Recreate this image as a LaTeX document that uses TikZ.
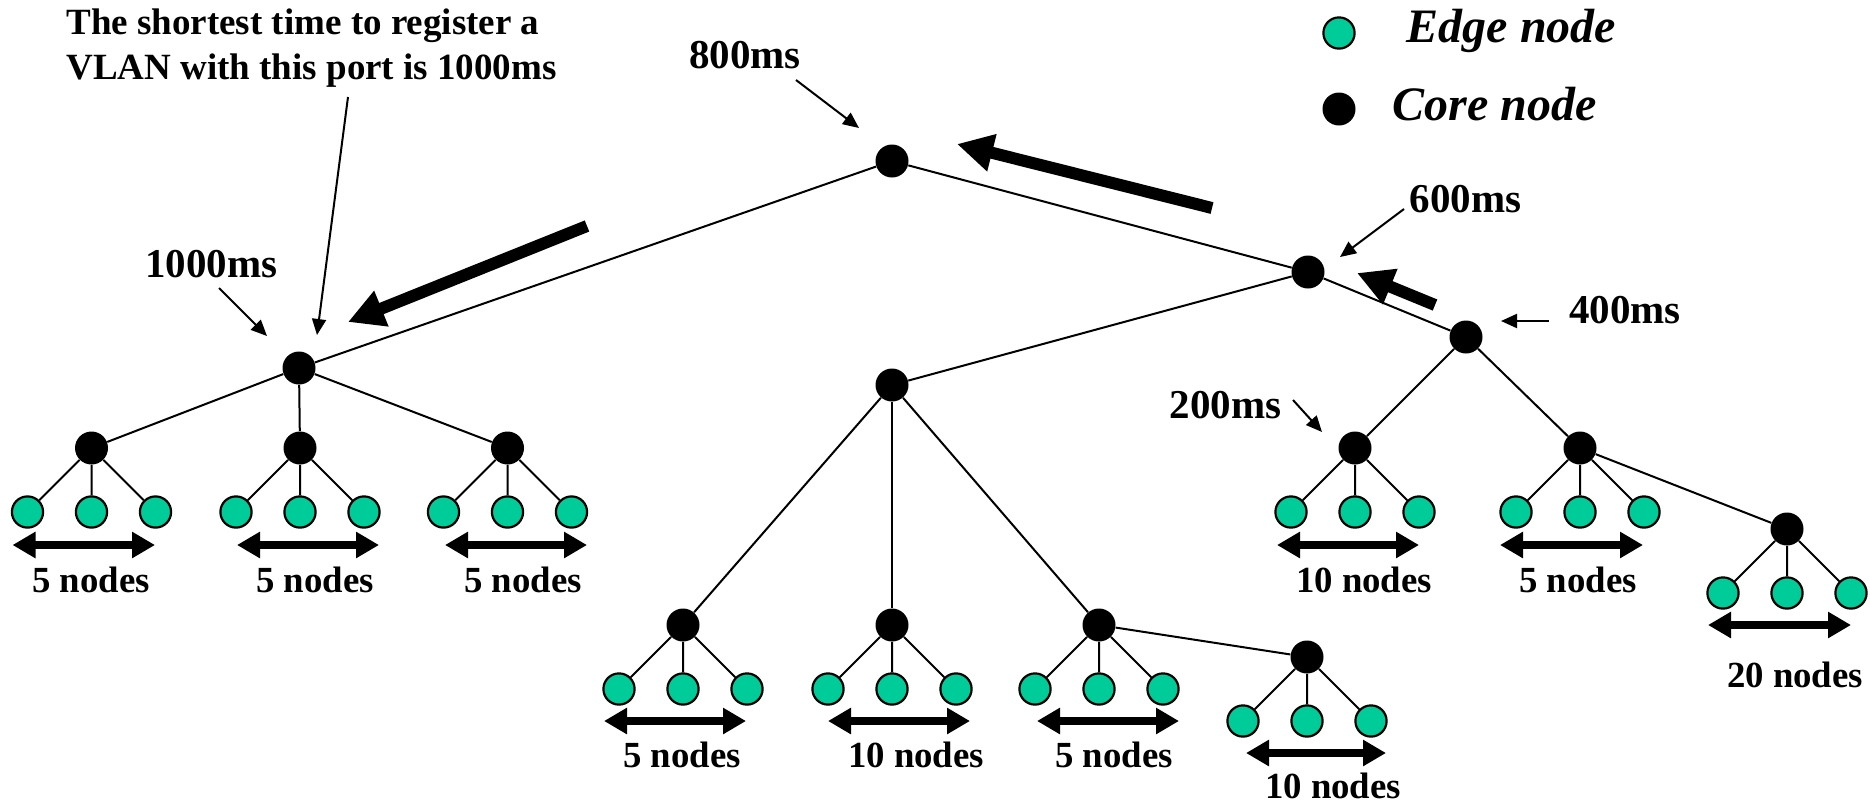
\documentclass[tikz,border=0pt]{standalone}
\usepackage{fontspec}
\setmainfont{Liberation Serif}
\usetikzlibrary{arrows.meta}
\definecolor{edgegreen}{RGB}{0,204,153}

% a core switch with its three edge nodes hanging below it
\newcommand\leafcluster[3]{%
  \node[core] (#1) at (#2,#3) {};
  \node[edgen] (#1-l) at ({#2-64},{#3+64}) {};
  \node[edgen] (#1-m) at (#2,{#3+64}) {};
  \node[edgen] (#1-r) at ({#2+64},{#3+64}) {};
  \draw[link] (#1) -- (#1-l) (#1) -- (#1-m) (#1) -- (#1-r);
}
% double-headed span arrow under a group of edge nodes
\newcommand\spanarrow[4]{%
  \coordinate (#1-w) at (#2,#4);
  \coordinate (#1-e) at (#3,#4);
  \draw[span] (#1-w) -- (#1-e);
}

\begin{document}
\begin{tikzpicture}[x=0.5pt,y=-0.5pt,
  core/.style={circle,fill=black,minimum size=16.5pt,inner sep=0pt},
  edgen/.style={circle,draw=black,line width=1.1pt,fill=edgegreen,minimum size=15.6pt,inner sep=0pt},
  link/.style={line width=1pt},
  pointer/.style={line width=1pt,-{Triangle[length=8pt,width=7pt]}},
  flow/.style={line width=6pt,-{Triangle[length=18pt,width=18pt]}},
  span/.style={line width=4pt,{Triangle[length=11.5pt,width=12.5pt]}-{Triangle[length=11.5pt,width=12.5pt]}},
  ms/.style={font=\fontsize{20.5}{24}\selectfont\bfseries,anchor=base,inner sep=0pt},
  count/.style={font=\fontsize{18.4}{22}\selectfont\bfseries,anchor=base,inner sep=0pt},
  legend/.style={font=\fontsize{24}{28}\selectfont\bfseries\itshape,anchor=base,inner sep=0pt},
]
\useasboundingbox (0,0) rectangle (1870,805);

% backbone core nodes
\node[core] (top) at (892,161) {};
\node[core] (left) at (299,368) {};
\node[core] (right) at (1308,272) {};
\node[core] (far) at (1466,337) {};
\node[core] (mid) at (892,385) {};

% access switches with edge nodes
\leafcluster{a1}{91.5}{448}
\leafcluster{a2}{300}{448}
\leafcluster{a3}{507.5}{448}
\leafcluster{d1}{683}{625}
\leafcluster{d2}{892}{625}
\leafcluster{d3}{1099}{625}
\leafcluster{d4}{1307}{657}
\leafcluster{c1}{1355}{448}
\leafcluster{c2}{1580}{448}
\leafcluster{c3}{1787}{529}

% tree links
\draw[link] (top) -- (left);
\draw[link] (top) -- (right);
\draw[link] (right) -- (mid);
\draw[link] (right) -- (far);
\draw[link] (left) -- (a1);
\draw[link] (left) -- (a2);
\draw[link] (left) -- (a3);
\draw[link] (mid) -- (d1);
\draw[link] (mid) -- (d2);
\draw[link] (mid) -- (d3);
\draw[link] (d3) -- (d4);
\draw[link] (far) -- (c1);
\draw[link] (far) -- (c2);
\draw[link] (c2) -- (c3);

% group sizes
\spanarrow{sa1}{12.5}{155}{545}
\spanarrow{sa2}{237}{379}{545}
\spanarrow{sa3}{445}{587}{545}
\spanarrow{sd1}{604}{746}{721}
\spanarrow{sd2}{828}{970}{721}
\spanarrow{sd3}{1037}{1179}{721}
\spanarrow{sd4}{1246}{1386}{753}
\spanarrow{sc1}{1277}{1419}{545}
\spanarrow{sc2}{1500}{1643}{545}
\spanarrow{sc3}{1708}{1851}{625}

\node[count] (na1) at (91,592) {5 nodes};
\node[count] (na2) at (315,592) {5 nodes};
\node[count] (na3) at (523,592) {5 nodes};
\node[count] (nd1) at (682,767) {5 nodes};
\node[count] (nd2) at (916,767) {10 nodes};
\node[count] (nd3) at (1114,767) {5 nodes};
\node[count] (nd4) at (1333,798) {10 nodes};
\node[count] (nc1) at (1364,592) {10 nodes};
\node[count] (nc2) at (1578,592) {5 nodes};
\node[count] (nc3) at (1795,687) {20 nodes};

% registration times
\node[ms] (t1000) at (211.5,277) {1000ms};
\node[ms] (t800) at (745,68) {800ms};
\node[ms] (t600) at (1465.5,212) {600ms};
\node[ms] (t400) at (1625,323) {400ms};
\node[ms] (t200) at (1225.5,418) {200ms};

\coordinate (p1000s) at (219,288);  \coordinate (p1000e) at (267,336);
\coordinate (p800s) at (796,80);    \coordinate (p800e) at (859,128);
\coordinate (p600s) at (1404,209);  \coordinate (p600e) at (1340,257);
\coordinate (p400s) at (1549,321);  \coordinate (p400e) at (1501,321);
\coordinate (p200s) at (1293,400);  \coordinate (p200e) at (1322,432);
\draw[pointer] (p1000s) -- (p1000e);
\draw[pointer] (p800s) -- (p800e);
\draw[pointer] (p600s) -- (p600e);
\draw[pointer] (p400s) -- (p400e);
\draw[pointer] (p200s) -- (p200e);

% note on the slowest port
\node[anchor=north west,inner sep=0pt,align=left,
      font=\fontsize{18.5}{22.5}\selectfont\bfseries] (note) at (66,8)
  {The shortest time to register a\\VLAN with this port is 1000ms};
\coordinate (pnotes) at (348,97); \coordinate (pnotee) at (317,335);
\draw[pointer] (pnotes) -- (pnotee);

% propagation direction
\coordinate (f1s) at (1435,305); \coordinate (f1e) at (1357,273);
\coordinate (f2s) at (1212,208); \coordinate (f2e) at (957,144);
\coordinate (f3s) at (587,226);  \coordinate (f3e) at (348,322);
\draw[flow] (f1s) -- (f1e);
\draw[flow] (f2s) -- (f2e);
\draw[flow] (f3s) -- (f3e);

% legend
\node[edgen] (kedge) at (1339,33) {};
\node[core] (kcore) at (1339,109) {};
\node[legend] (ledge) at (1511.5,42) {Edge node};
\node[legend] (lcore) at (1494.5,120) {Core node};
\end{tikzpicture}
\end{document}
